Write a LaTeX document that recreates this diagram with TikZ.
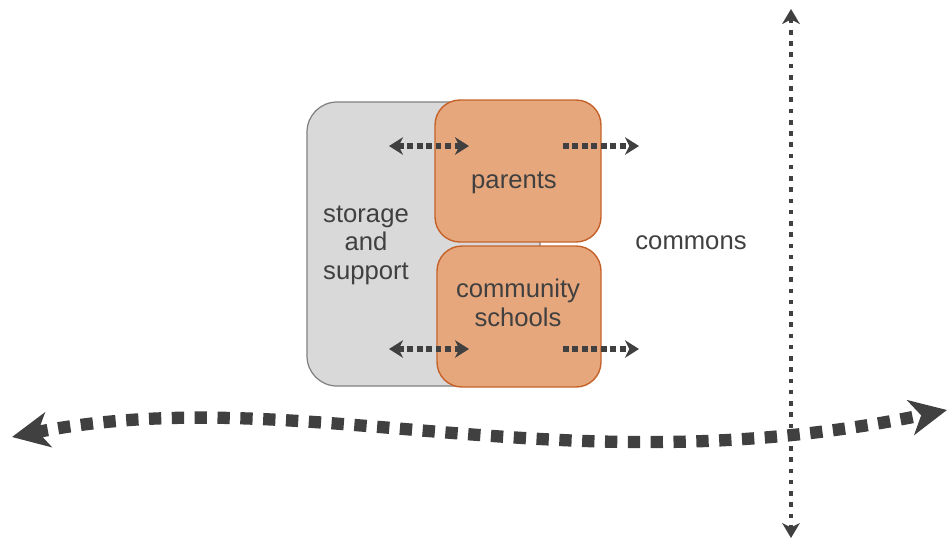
\documentclass[tikz,border=0pt]{standalone}
\usepackage{fontspec}
\setmainfont{Liberation Sans}
\usetikzlibrary{arrows.meta}

\definecolor{ink}{HTML}{404040}
\definecolor{boxgray}{HTML}{D9D9D9}
\definecolor{edgegray}{HTML}{808080}
\definecolor{peach}{HTML}{E7A77D}
\definecolor{rust}{HTML}{C5622A}

\begin{document}
\begin{tikzpicture}[x=0.02cm,y=-0.02cm,
        storagebox/.style={draw=edgegray, fill=boxgray, line width=0.7pt,
                        rounded corners=0.6cm, inner sep=0pt},
        groupbox/.style={draw=rust, fill=peach, line width=0.8pt,
                        rounded corners=0.5cm, inner sep=0pt},
        txt/.style={text=ink, font=\fontsize{14.6}{16.2}\selectfont,
                        align=center, inner sep=0pt},
        flow/.style={draw=ink, line width=3.2pt, dash pattern=on 3.2pt off 2.2pt},
        axis/.style={draw=ink, line width=2.6pt, dash pattern=on 2.6pt off 3.8pt},
        wave/.style={draw=ink, line width=7pt, dash pattern=on 7pt off 6pt}]
    \useasboundingbox (0,0) rectangle (949,539);

    % boxes
    \node[storagebox, minimum width=233*0.02cm, minimum height=284*0.02cm]
        (storage) at (423.5,244) {};
    \node[groupbox, minimum width=166*0.02cm, minimum height=142*0.02cm]
        (parents) at (518,171) {};
    \node[groupbox, minimum width=164*0.02cm, minimum height=141*0.02cm]
        (schools) at (519,316.5) {};

    % labels
    \node[txt] (storagetxt) at (366,245) {storage\\and\\support};
    \node[txt] (parentstxt) at (514,183) {parents};
    \node[txt] (schoolstxt) at (518,303) {community\\schools};
    \node[txt] (commons) at (691,243) {commons};

    % end points
    \coordinate (pl) at (389,146);
    \coordinate (pr) at (469,146);
    \coordinate (po) at (563,146);
    \coordinate (pe) at (639,146);
    \coordinate (sl) at (389,349);
    \coordinate (sr) at (469,349);
    \coordinate (so) at (563,349);
    \coordinate (se) at (639,349);
    \coordinate (up) at (791,9);
    \coordinate (down) at (791,538);
    \coordinate (west) at (12,437);
    \coordinate (east) at (947,410);

    % flows
    \foreach \a/\b in {pl/pr,sl/sr}
        \draw[flow, {Stealth[length=8pt,width=10pt,inset=2.5pt]}-{Stealth[length=8pt,width=10pt,inset=2.5pt]}] (\a) -- (\b);
    \foreach \a/\b in {po/pe,so/se}
        \draw[flow, -{Stealth[length=8pt,width=10pt,inset=2.5pt]}] (\a) -- (\b);

    \draw[axis, {Stealth[length=8.5pt,width=10pt,inset=2.5pt]}-{Stealth[length=8.5pt,width=10pt,inset=2.5pt]}]
        (up) -- (down);
    \draw[wave, {Stealth[length=21pt,width=20pt,inset=6pt]}-{Stealth[length=21pt,width=20pt,inset=6pt]}]
        (west) .. controls (300,380) and (560,490) .. (east);
\end{tikzpicture}
\end{document}
